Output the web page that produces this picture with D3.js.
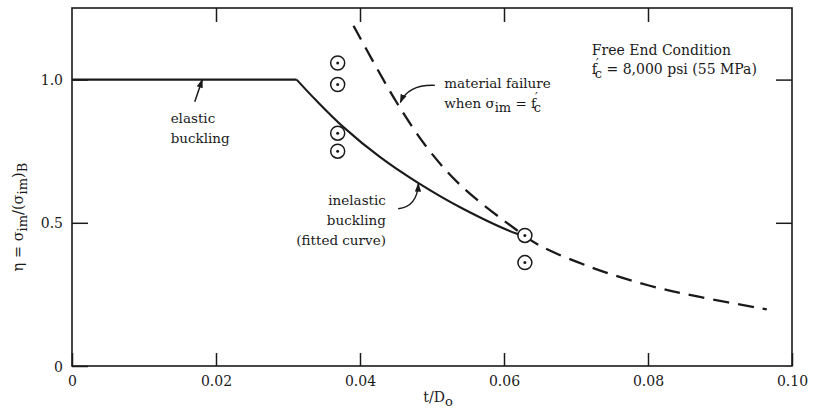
<!DOCTYPE html>
<html>
<head>
<meta charset="utf-8">
<script src="https://cdn.jsdelivr.net/npm/d3@7"></script>
<style>
  html, body { margin: 0; padding: 0; background: #fff; }
  svg { display: block; }
  text { font-family: "DejaVu Serif", serif; fill: #1a1a1a; }
</style>
</head>
<body>
<svg id="chart" width="814" height="412"></svg>
<script>
// ---- data ----
const xTicks = [0, 0.02, 0.04, 0.06, 0.08, 0.10];
const xTickLabels = ["0", "0.02", "0.04", "0.06", "0.08", "0.10"];
const yTicks = [0, 0.5, 1.0];
const yTickLabels = ["0", "0.5", "1.0"];

// elastic buckling plateau
const elasticX = [0, 0.0312];
const elasticY = [1.0, 1.0];
// inelastic buckling (fitted curve)
const inelasticX = [0.0312, 0.0340, 0.0377, 0.0428, 0.0479, 0.0543, 0.0618, 0.0630];
const inelasticY = [1.000, 0.925, 0.834, 0.729, 0.642, 0.549, 0.462, 0.455];
// material failure when sigma_im = f'c
const failureX = [0.0391, 0.0451, 0.0497, 0.0543, 0.0618, 0.0650, 0.0724, 0.0800, 0.0872, 0.0965];
const failureY = [1.188, 0.920, 0.750, 0.623, 0.474, 0.420, 0.342, 0.282, 0.241, 0.198];
// test results
const testX = [0.0369, 0.0369, 0.0369, 0.0369, 0.0629, 0.0629];
const testY = [1.058, 0.983, 0.813, 0.750, 0.456, 0.361];

// ---- layout ----
const svg = d3.select("#chart");
const M = { left: 72, right: 792, top: 8, bottom: 366 };
const x = d3.scaleLinear().domain([0, 0.10]).range([M.left, M.right]);
const y = d3.scaleLinear().domain([0, 1.25]).range([M.bottom, M.top]);
const ink = "#1a1a1a";
const fs = 13.5;

// arrow marker
const defs = svg.append("defs");
defs.append("marker")
  .attr("id", "arr").attr("viewBox", "0 0 10 10")
  .attr("refX", 9).attr("refY", 5)
  .attr("markerWidth", 9).attr("markerHeight", 9)
  .attr("markerUnits", "userSpaceOnUse")
  .attr("orient", "auto")
  .append("path").attr("d", "M0,1.5 L10,5 L0,8.5 Z").attr("fill", ink);

// frame
svg.append("rect")
  .attr("x", M.left).attr("y", M.top)
  .attr("width", M.right - M.left).attr("height", M.bottom - M.top)
  .attr("fill", "none").attr("stroke", ink).attr("stroke-width", 1.6);

// axes
const fmtX = d => xTickLabels[xTicks.indexOf(d)];
const fmtY = d => yTickLabels[yTicks.indexOf(d)];

const gB = svg.append("g").attr("transform", `translate(0,${M.bottom})`)
  .call(d3.axisBottom(x).tickValues(xTicks).tickFormat(fmtX).tickSize(-13).tickPadding(10));
const gT = svg.append("g").attr("transform", `translate(0,${M.top})`)
  .call(d3.axisTop(x).tickValues(xTicks.slice(1, -1)).tickFormat("").tickSize(-14));
const gL = svg.append("g").attr("transform", `translate(${M.left},0)`)
  .call(d3.axisLeft(y).tickValues(yTicks).tickFormat(fmtY).tickSize(-16).tickPadding(9));
const gR = svg.append("g").attr("transform", `translate(${M.right},0)`)
  .call(d3.axisRight(y).tickValues(yTicks.slice(1)).tickFormat("").tickSize(-16));

[gB, gT, gL, gR].forEach(g => {
  g.select(".domain").remove();
  g.selectAll(".tick line").attr("stroke", ink).attr("stroke-width", 1.5);
  g.selectAll(".tick text").attr("font-family", "DejaVu Serif").attr("font-size", 14).attr("fill", ink);
});
gL.selectAll(".tick text").attr("dy", "0.36em");

// lines
const line = d3.line().x(d => x(d[0])).y(d => y(d[1]));
const zip = (a, b) => a.map((v, i) => [v, b[i]]);

svg.append("path").datum(zip(elasticX, elasticY))
  .attr("d", line)
  .attr("fill", "none").attr("stroke", ink).attr("stroke-width", 2.3);

svg.append("path").datum(zip(inelasticX, inelasticY))
  .attr("d", d3.line().x(d => x(d[0])).y(d => y(d[1])).curve(d3.curveCatmullRom.alpha(0.5)))
  .attr("fill", "none").attr("stroke", ink).attr("stroke-width", 2.1);

svg.append("path").datum(zip(failureX, failureY))
  .attr("d", d3.line().x(d => x(d[0])).y(d => y(d[1])).curve(d3.curveCatmullRom.alpha(0.5)))
  .attr("fill", "none").attr("stroke", ink).attr("stroke-width", 2.3)
  .attr("stroke-dasharray", "16,9");

// test points
const pts = svg.append("g").selectAll("g").data(zip(testX, testY)).join("g")
  .attr("transform", d => `translate(${x(d[0])},${y(d[1])})`);
pts.append("circle").attr("r", 7).attr("fill", "#fff").attr("stroke", ink).attr("stroke-width", 1.5);
pts.append("circle").attr("r", 1.5).attr("fill", ink);

// ---- annotations ----
function addLines(lines, ax, ay, anchor) {
  const t = svg.append("text").attr("font-size", fs).attr("text-anchor", anchor || "start");
  lines.forEach((s, i) => {
    t.append("tspan").attr("x", x(ax)).attr("y", y(ay) + i * 20).text(s);
  });
  return t;
}
// f'c : prime above, c below
function fc(t, size) {
  t.append("tspan").text("f");
  t.append("tspan").attr("dy", -6).attr("dx", -1).attr("font-size", size - 2).text("′");
  t.append("tspan").attr("dy", 10).attr("dx", -4).attr("font-size", size - 1).text("c");
}

// elastic buckling
addLines(["elastic", "buckling"], 0.0137, 0.85);
svg.append("path")
  .attr("d", `M${x(0.01705)},${y(0.923)} L${x(0.0181)},${y(1.0)}`)
  .attr("stroke", ink).attr("stroke-width", 1.5).attr("fill", "none")
  .attr("marker-end", "url(#arr)");

// inelastic buckling
addLines(["inelastic", "buckling", "(fitted curve)"], 0.0436, 0.563, "end");
{
  const x0 = x(0.0453), y0 = y(0.549), x1 = x(0.0481), y1 = y(0.637);
  svg.append("path")
    .attr("d", `M${x0},${y0} Q${x1 - 1},${y0 - 2} ${x1},${y1}`)
    .attr("stroke", ink).attr("stroke-width", 1.4).attr("fill", "none")
    .attr("marker-end", "url(#arr)");
}

// material failure
{
  svg.append("text").attr("font-size", fs)
    .attr("x", x(0.0517)).attr("y", y(0.97)).text("material failure");
  const t2 = svg.append("text").attr("font-size", fs).attr("x", x(0.0517)).attr("y", y(0.97) + 20);
  t2.append("tspan").text("when σ");
  t2.append("tspan").attr("dy", 4).attr("font-size", 13).text("im");
  t2.append("tspan").attr("dy", -4).text(" = ");
  fc(t2, 14);
  const x0 = x(0.0504), y0 = y(0.98), x1 = x(0.0456), y1 = y(0.92);
  svg.append("path")
    .attr("d", `M${x0},${y0} Q${x1 + 8},${y0 - 1} ${x1},${y1}`)
    .attr("stroke", ink).attr("stroke-width", 1.4).attr("fill", "none")
    .attr("marker-end", "url(#arr)");
}

// condition note
{
  svg.append("text").attr("font-size", 14).attr("x", x(0.0722)).attr("y", y(1.085)).text("Free End Condition");
  const t = svg.append("text").attr("font-size", 14).attr("x", x(0.0722)).attr("y", y(1.085) + 19);
  fc(t, 14);
  t.append("tspan").attr("dy", -4).text(" = 8,000 psi (55 MPa)");
}

// axis titles
{
  const t = svg.append("text").attr("font-size", 14).attr("text-anchor", "middle")
    .attr("x", 438).attr("y", 402);
  t.append("tspan").text("t/D");
  t.append("tspan").attr("dy", 4).attr("font-size", 13).text("o");
}
{
  const t = svg.append("text").attr("font-size", 14.5).attr("text-anchor", "middle")
    .attr("transform", `translate(23,${y(0.52)}) rotate(-90)`);
  t.append("tspan").text("η = σ");
  t.append("tspan").attr("dy", 4).attr("font-size", 13).text("im");
  t.append("tspan").attr("dy", -4).text("/(σ");
  t.append("tspan").attr("dy", 4).attr("font-size", 13).text("im");
  t.append("tspan").attr("dy", -4).text(")");
  t.append("tspan").attr("dy", 4).attr("font-size", 13).text("B");
}
</script>
</body>
</html>
